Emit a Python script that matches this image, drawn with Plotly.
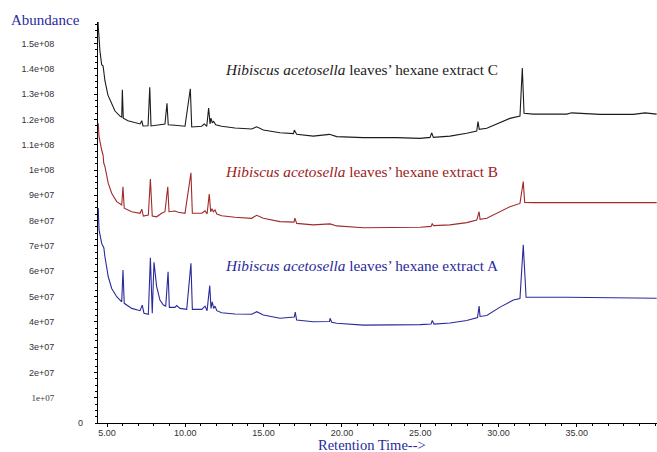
import plotly.graph_objects as go

UNIT = 1e7  # abundance values below are in units of 1e7 counts

# ---- Extract C (black) ----
c_time = [4.43, 4.44, 4.55, 4.66, 4.75, 4.78, 4.87, 5.06, 5.32, 5.51, 5.83, 5.94, 5.98, 6.04, 6.34, 6.79,
          7.11, 7.22, 7.30, 7.62, 7.73, 7.81, 8.26, 8.70, 8.83, 8.91, 9.34, 9.98, 10.32, 10.41, 11.05,
          11.21, 11.37, 11.49, 11.58, 11.64, 11.72, 11.81, 11.94, 12.32, 13.17, 14.24, 14.56, 14.98,
          16.05, 16.91, 16.96, 17.11, 18.17, 19.20, 19.67, 21.37, 23.50, 24.99, 25.63, 25.73, 25.84,
          26.90, 27.97, 28.61, 28.69, 28.77, 29.25, 30.10, 30.73, 31.37, 31.52, 31.63, 32.22, 34.36,
          34.67, 36.48, 38.61, 39.36, 40.10]
c_abund = [15.85, 15.69, 14.70, 14.16, 14.11, 13.87, 13.52, 12.96, 12.57, 12.33, 12.13, 12.09, 13.17, 12.05,
           11.95, 11.86, 11.82, 11.95, 11.74, 11.75, 13.27, 11.74, 11.79, 11.82, 12.64, 11.79, 11.77,
           11.73, 13.21, 11.70, 11.73, 11.82, 11.73, 12.45, 11.82, 12.05, 11.86, 11.92, 11.79, 11.73,
           11.66, 11.62, 11.71, 11.58, 11.47, 11.44, 11.58, 11.41, 11.34, 11.41, 11.32, 11.28, 11.28,
           11.25, 11.29, 11.47, 11.29, 11.34, 11.45, 11.54, 11.91, 11.61, 11.65, 11.87, 12.04, 12.13,
           14.03, 12.24, 12.21, 12.21, 12.26, 12.20, 12.20, 12.26, 12.21]

# ---- Extract B (dark red) ----
b_time = [4.44, 4.49, 4.66, 4.75, 4.79, 4.87, 5.08, 5.30, 5.62, 5.94, 6.02, 6.10, 6.58, 7.11, 7.22, 7.32,
          7.64, 7.77, 7.89, 8.17, 8.49, 8.70, 8.88, 8.96, 9.34, 9.55, 9.98, 10.36, 10.45, 11.05, 11.26,
          11.39, 11.53, 11.62, 11.70, 11.79, 11.90, 12.01, 12.32, 13.17, 14.24, 14.56, 14.98, 16.05,
          16.94, 17.00, 17.11, 18.17, 19.24, 19.67, 21.37, 23.50, 24.99, 25.69, 25.77, 25.84, 26.90,
          27.97, 28.61, 28.76, 28.82, 29.25, 30.10, 30.73, 31.37, 31.58, 31.67, 32.22, 34.36, 36.48,
          40.10]
b_abund = [11.85, 11.32, 10.79, 10.59, 10.28, 10.13, 9.47, 9.08, 8.75, 8.62, 9.34, 8.49, 8.35, 8.29, 8.45,
           8.18, 8.22, 9.64, 8.18, 8.15, 8.29, 8.35, 9.34, 8.35, 8.38, 8.33, 8.29, 9.89, 8.29, 8.29, 8.39,
           8.26, 9.05, 8.35, 8.47, 8.35, 8.42, 8.26, 8.19, 8.13, 8.09, 8.21, 8.09, 7.96, 7.94, 8.10, 7.89,
           7.83, 7.87, 7.79, 7.72, 7.72, 7.74, 7.77, 7.89, 7.80, 7.83, 7.92, 8.02, 8.35, 8.05, 8.09, 8.35,
           8.55, 8.68, 9.54, 8.72, 8.71, 8.71, 8.71, 8.71]

# ---- Extract A (blue) ----
a_time = [4.44, 4.49, 4.66, 4.80, 4.86, 5.08, 5.30, 5.62, 5.94, 6.02, 6.10, 6.58, 7.11, 7.25, 7.36, 7.64,
          7.77, 7.89, 8.00, 8.17, 8.38, 8.60, 8.75, 8.90, 8.98, 9.34, 9.45, 9.66, 10.09, 10.36, 10.45,
          11.05, 11.26, 11.39, 11.56, 11.64, 11.72, 11.81, 11.90, 12.01, 12.32, 13.17, 14.24, 14.56,
          14.98, 16.05, 16.96, 17.02, 17.11, 18.17, 19.21, 19.24, 19.35, 19.67, 21.37, 23.50, 24.99,
          25.69, 25.77, 25.88, 26.90, 27.97, 28.66, 28.76, 28.82, 29.25, 30.10, 30.95, 31.37, 31.58,
          31.76, 34.36, 36.48, 40.10]
a_abund = [8.50, 7.63, 7.10, 6.92, 6.60, 5.78, 5.32, 4.99, 4.79, 6.05, 4.73, 4.53, 4.44, 4.66, 4.34, 4.30,
           6.53, 4.34, 6.35, 5.39, 4.86, 4.66, 4.62, 5.98, 4.57, 4.57, 4.64, 4.53, 4.49, 6.31, 4.49, 4.49,
           4.62, 4.44, 5.43, 4.53, 4.79, 4.53, 4.62, 4.44, 4.36, 4.31, 4.30, 4.40, 4.27, 4.14, 4.19, 4.38,
           4.07, 4.00, 4.01, 4.14, 3.98, 3.94, 3.87, 3.87, 3.89, 3.91, 4.05, 3.91, 3.95, 4.05, 4.17, 4.62,
           4.21, 4.25, 4.58, 4.86, 4.92, 7.04, 4.97, 4.97, 4.96, 4.93]

y_tick_vals = [1, 2, 3, 4, 5, 6, 7, 8, 9, 10, 11, 12, 13, 14, 15]
y_tick_text = ['<span style="font-family:Liberation Serif">1e+07</span>', '2e+07', '3e+07', '4e+07',
               '5e+07', '6e+07', '7e+07', '8e+07', '9e+07', '1e+08', '1.1e+08', '1.2e+08', '1.3e+08',
               '1.4e+08', '1.5e+08']
x_tick_vals = [5, 10, 15, 20, 25, 30, 35]
x_tick_text = ['5.00', '10.00', '15.00', '20.00', '25.00', '30.00', '35.00']

labels = ['C', 'B', 'A']
label_time = 21.22
label_abund = [13.99, 9.96, 6.21]

col_c = '#1c1c1c'
col_b = '#a02a2a'
col_a = '#2a2a9c'
col_title = '#2a2aa0'

fig = go.Figure()
for t, v, col in [(c_time, c_abund, col_c), (b_time, b_abund, col_b), (a_time, a_abund, col_a)]:
    fig.add_trace(go.Scatter(x=t, y=[val * UNIT for val in v], mode='lines',
                             line=dict(color=col, width=1.1), showlegend=False, hoverinfo='skip'))

for lab, ya, col in zip(labels, label_abund, [col_c, '#9a2222', col_a]):
    fig.add_annotation(x=label_time, y=ya * UNIT, xref='x', yref='y',
                       text='<i>Hibiscus acetosella</i> leaves’ hexane extract ' + lab,
                       showarrow=False, xanchor='center', yanchor='middle',
                       font=dict(family='Liberation Serif', size=15.3, color=col))

fig.add_annotation(x=-0.159, y=1.005, xref='paper', yref='paper', text='Abundance', showarrow=False,
                   xanchor='left', yanchor='middle',
                   font=dict(family='Liberation Serif', size=15, color=col_title))
fig.add_annotation(x=0.49, y=-0.054, xref='paper', yref='paper', text='Retention Time-->', showarrow=False,
                   xanchor='center', yanchor='middle',
                   font=dict(family='Liberation Serif', size=14.5, color=col_title))
fig.add_annotation(x=-0.032, y=0, xref='paper', yref='y', text='0', showarrow=False,
                   xanchor='center', yanchor='middle',
                   font=dict(family='Liberation Sans', size=9, color='#333333'))

fig.update_layout(
    width=657, height=452,
    margin=dict(l=98, r=0, t=22, b=29),
    paper_bgcolor='white', plot_bgcolor='white',
    xaxis=dict(range=[4.425, 40.12], tickvals=x_tick_vals, ticktext=x_tick_text,
               showline=True, linecolor='black', linewidth=1, ticks='outside', ticklen=3,
               tickcolor='black', showgrid=False, zeroline=False, ticklabelstandoff=-2,
               tickfont=dict(family='Liberation Sans', size=9, color='#333333'),
               minor=dict(ticks='outside', ticklen=2, dtick=1, tickcolor='black')),
    yaxis=dict(range=[0, 15.85 * UNIT], tickvals=[v * UNIT for v in y_tick_vals], ticktext=y_tick_text,
               showline=True, linecolor='black', linewidth=1, ticks='outside', ticklen=3,
               tickcolor='black', showgrid=False, zeroline=False, ticklabelstandoff=38,
               tickfont=dict(family='Liberation Sans', size=9, color='#333333'),
               minor=dict(ticks='outside', ticklen=2, dtick=0.25 * UNIT, tickcolor='black')),
)

fig.write_html('out.html', config={'displayModeBar': False},
               post_script="document.body.style.margin='0';document.body.style.overflow='hidden';")
